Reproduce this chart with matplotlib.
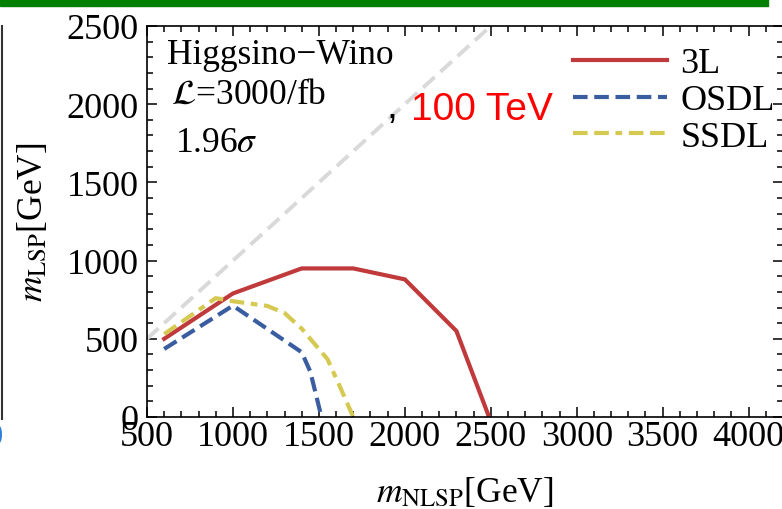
import matplotlib
matplotlib.use("Agg")
import matplotlib.pyplot as plt
from matplotlib.ticker import MultipleLocator
from matplotlib.patches import Rectangle
from matplotlib.lines import Line2D

plt.rcParams['font.family'] = ['Liberation Serif', 'DejaVu Serif']
plt.rcParams['mathtext.fontset'] = 'stix'

# exclusion contours (m_NLSP, m_LSP) in GeV
x_3l = [600, 1000, 1400, 1700, 2000, 2300, 2490]
y_3l = [500, 790, 950, 950, 880, 550, 0]

x_osdl = [600, 1000, 1400, 1450, 1515]
y_osdl = [435, 712, 414, 290, 0]

x_ssdl = [600, 900, 1000, 1200, 1300, 1400, 1550, 1620, 1700]
y_ssdl = [530, 760, 740, 710, 665, 565, 370, 200, 0]

x_diag = [500, 2500]
y_diag = [500, 2500]

W, H = 782, 510
fig = plt.figure(figsize=(W / 100, H / 100), dpi=100)

# axes placed in pixel terms of the reference
L, R, T, B = 147, 783, 27, 418
ax = fig.add_axes([L / W, (H - B) / H, (R - L) / W, (B - T) / H])

ax.plot(x_diag, y_diag, color='#d9d9d9', lw=2.8, dashes=(4, 2))
ax.plot(x_3l, y_3l, color='#c03a3c', lw=3, label='3L', solid_joinstyle='miter')
ax.plot(x_osdl, y_osdl, color='#3a5da0', lw=3, dashes=(3.5, 1.6), label='OSDL')
ax.plot(x_ssdl, y_ssdl, color='#d6c951', lw=3, dashes=(3.5, 1.6, 3.5, 1.6, 1.6, 1.6), label='SSDL')

ax.set_xlim(500, 4200)
ax.set_ylim(0, 2500)
ax.set_xticks(range(500, 4001, 500))
ax.set_yticks(range(0, 2501, 500))
ax.xaxis.set_minor_locator(MultipleLocator(100))
ax.yaxis.set_minor_locator(MultipleLocator(100))
ax.tick_params(which='both', direction='in', top=True, right=True, width=1.1, labelsize=26)
ax.tick_params(which='major', length=7)
ax.tick_params(which='minor', length=4)
ax.tick_params(axis='x', pad=2)
ax.tick_params(axis='y', pad=6)
for s in ax.spines.values():
    s.set_linewidth(1.2)

ax.set_xlabel(r'$m_{\mathrm{NLSP}}$[GeV]', fontsize=25.5, labelpad=16)
ax.set_ylabel(r'$m_{\mathrm{LSP}}$[GeV]', fontsize=25.5, labelpad=12)

def axfrac(px, py):
    return (px - L) / (R - L), (B - py) / (B - T)

ax.text(*axfrac(167, 64), 'Higgsino\u2212Wino', fontsize=25.5, va='baseline', transform=ax.transAxes)
ax.text(*axfrac(171, 104), r'$\mathcal{L}$=3000/fb', fontsize=25.5, va='baseline', transform=ax.transAxes)
ax.text(*axfrac(175, 152), r'1.96$\sigma$', fontsize=25.5, va='baseline', transform=ax.transAxes)
ax.text(*axfrac(386, 118), ',', fontsize=28, va='baseline', transform=ax.transAxes,
        family='Liberation Sans')
ax.text(*axfrac(411, 120), '100 TeV', fontsize=28, va='baseline', color='red',
        family='Liberation Sans', transform=ax.transAxes)

ax.legend(loc='upper left', bbox_to_anchor=axfrac(573, 48), frameon=False, fontsize=26,
          handlelength=2.6, handletextpad=0.38, labelspacing=0.1, borderpad=0, borderaxespad=0)

# slide decorations around the cropped chart
fig.add_artist(Rectangle((0, 1 - 7 / H), 768 / W, 7 / H, color='#008000', transform=fig.transFigure))
fig.add_artist(Line2D([1.5 / W, 1.5 / W], [(H - 27) / H, (H - 420) / H], color='#333333', lw=1.5,
                      transform=fig.transFigure))
fig.text(3 / W, (H - 452) / H, '0', color='#2f7fd8', fontsize=22, ha='right', va='bottom')

fig.savefig('out.png', dpi=100)
